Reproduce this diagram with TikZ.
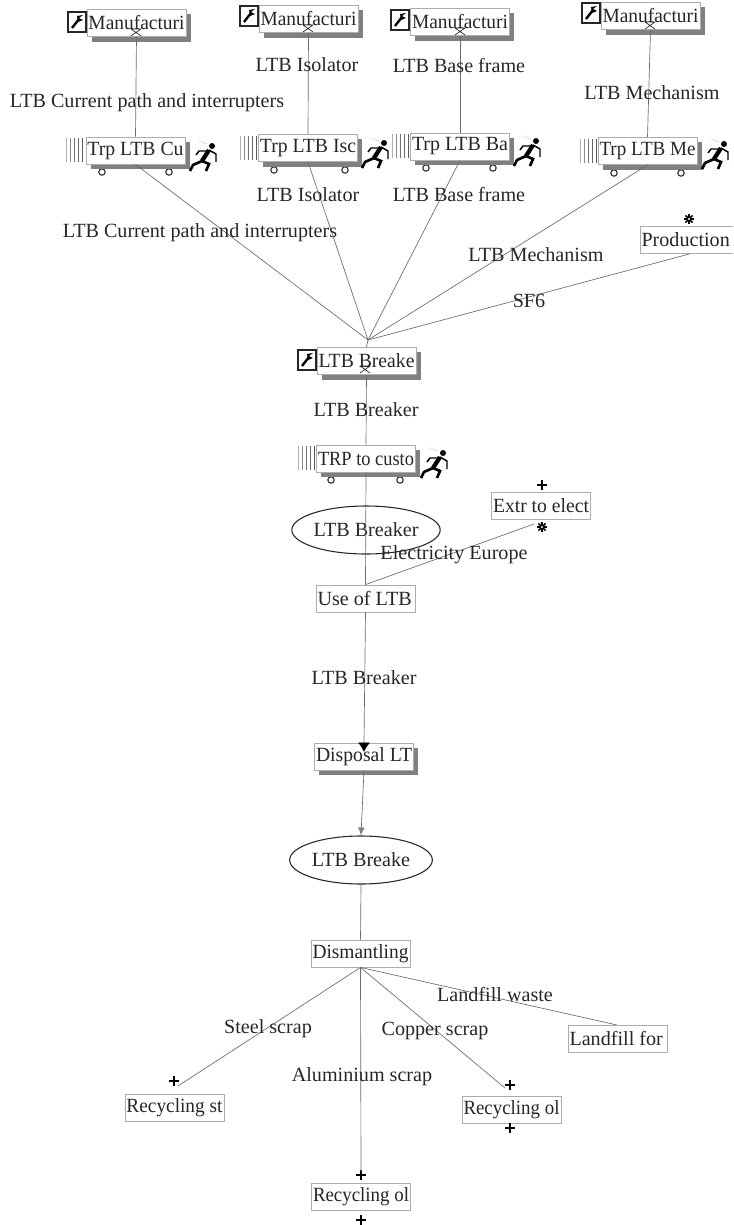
\documentclass[tikz,border=0pt]{standalone}
\usepackage{fontspec}
\setmainfont{Liberation Serif}
\usetikzlibrary{shadows,arrows.meta,shapes.geometric}
\definecolor{inkc}{gray}{0.15}
\definecolor{linec}{gray}{0.42}
\definecolor{boxc}{gray}{0.68}
\definecolor{shadc}{gray}{0.5}
\newsavebox{\fitsave}
\newcommand{\fitln}[1]{\sbox{\fitsave}{#1}\ifdim\wd\fitsave>72pt\resizebox{72pt}{\height}{\usebox{\fitsave}}\else\makebox[72pt][l]{\usebox{\fitsave}}\fi}
\tikzset{
  x=0.75pt,y=-0.75pt,
  every node/.style={text=inkc,font=\fontsize{15.1pt}{17pt}\selectfont},
  procbox/.style={draw=boxc,line width=0.4pt,fill=white,minimum height=20.5pt,minimum width=74.2pt,inner xsep=1pt,inner ysep=0.5pt},
  shadowbox/.style={procbox,drop shadow={shadow xshift=3.6pt,shadow yshift=-3.8pt,fill=shadc,opacity=1}},
  flowell/.style={draw=inkc,line width=0.8pt,ellipse,fill=none,minimum width=107pt,minimum height=36pt,inner sep=0pt},
  lbl/.style={inner sep=0pt},
  conn/.style={draw=linec,line width=0.5pt},
  pics/wrenchicon/.style={code={
    \draw[draw=inkc,line width=0.8pt,fill=white] (-9,-10) rectangle (9,10);
    \draw[black,line width=1.8pt] (-5,6) -- (2,-3);
    \fill[black] (0,-6) -- (6,-7) -- (2,-4) -- (6,-2) -- (1,0) -- cycle;
  }},
  pics/runnericon/.style={code={
    \fill[black] (7,-12) circle (3);
    \draw[black,line width=3.2pt] (4,-8) -- (-3,3);
    \draw[black,line width=2pt] (-3,3) -- (-12,7) -- (-15,13);
    \draw[black,line width=2pt] (-3,3) -- (4,6) -- (1,13);
    \draw[black,line width=1.1pt] (4,-8) -- (11,-4) -- (11,4);
    \draw[black,line width=1.1pt] (3,-7) -- (-6,-7) -- (-9,-3);
    \draw[gray,densely dotted,line width=0.4pt] (-6,-17) -- (2,-14);
  }},
  pics/stripesicon/.style={code={
    \foreach \sx/\sc in {0/30,4/45,8/55,12/60,16/65}
      \draw[black!\sc!white,line width=0.5pt] (\sx,-12) -- (\sx,12);
  }},
  pics/wheelicon/.style={code={
    \draw[inkc,line width=0.8pt,fill=white] (0,0) circle (3.2);
  }},
  pics/plusicon/.style={code={
    \draw[black,line width=1.4pt] (-5,0) -- (5,0) (0,-5) -- (0,5);
  }},
  pics/staricon/.style={code={
    \foreach \sa in {0,45,90,135}
      \draw[black,line width=1.1pt] (\sa:5) -- (\sa+180:5);
    \fill[white] (0,0) circle (1.2);
  }},
  pics/funnelicon/.style={code={
    \draw[inkc,line width=0.5pt] (-5,-3) -- (5,4) (5,-3) -- (-5,4) (-5,-3) -- (5,-3);
  }}
}
\begin{document}
\begin{tikzpicture}
\useasboundingbox (0,0) rectangle (733,1225);
\clip (0,0) rectangle (733,1225);
% stripes
\pic at (66,150) {stripesicon};
\pic at (240,148) {stripesicon};
\pic at (392,146) {stripesicon};
\pic at (580,151) {stripesicon};
\pic at (298,458) {stripesicon};
% wheels
\foreach \wx/\wy in {102/172,169/172,274/170,345/170,426/168,493/168,614/173,681/173,331/480,400/480}
  \pic at (\wx,\wy) {wheelicon};
% boxes
\node[shadowbox] (m1) at (136.5,23) {\fitln{Manufacturi}};
\node[shadowbox] (m2) at (308.5,19) {\fitln{Manufacturi}};
\node[shadowbox] (m3) at (460,22) {\fitln{Manufacturi}};
\node[shadowbox] (m4) at (650.5,16) {\fitln{Manufacturi}};
\node[shadowbox] (t1) at (135.5,150.5) {\fitln{Trp LTB Cu}};
\node[shadowbox] (t2) at (308,148) {\fitln{Trp LTB Isc}};
\node[shadowbox] (t3) at (460,146.5) {\fitln{Trp LTB Ba}};
\node[shadowbox] (t4) at (647.5,151) {\fitln{Trp LTB Me}};
\node[procbox] (prod) at (689.5,240) {\fitln{Production}};
\node[shadowbox] (br) at (366.5,361) {\fitln{LTB Breake}};
\node[shadowbox] (trp) at (366,458.5) {\fitln{TRP to custo}};
\node[procbox] (extr) at (541,506) {\fitln{Extr to elect}};
\node[flowell] (e1) at (366,530) {LTB Breaker};
\node[procbox] (use) at (365.5,598.5) {\fitln{Use of LTB}};
\node[shadowbox] (disp) at (364,756.5) {\fitln{Disposal LT}};
\node[flowell] (e2) at (361,860) {LTB Breake};
\node[procbox] (dism) at (360.5,953.5) {\fitln{Dismantling}};
\node[procbox] (land) at (617.5,1038.5) {\fitln{Landfill for}};
\node[procbox] (rs) at (174.5,1107.5) {\fitln{Recycling st}};
\node[procbox] (ro) at (511.5,1109.5) {\fitln{Recycling ol}};
\node[procbox] (rb) at (361,1197) {\fitln{Recycling ol}};
% icons
\pic at (77,22) {wrenchicon};
\pic at (249,16) {wrenchicon};
\pic at (400,20) {wrenchicon};
\pic at (591,13) {wrenchicon};
\pic at (307,360) {wrenchicon};
\pic at (205,158) {runnericon};
\pic at (377,155) {runnericon};
\pic at (529,153) {runnericon};
\pic at (717,156) {runnericon};
\pic at (436,465) {runnericon};
\pic at (542,485) {plusicon};
\pic at (174,1081) {plusicon};
\pic at (510,1085) {plusicon};
\pic at (510,1128) {plusicon};
\pic at (361,1175) {plusicon};
\pic at (361,1220) {plusicon};
\pic at (689,219) {staricon};
\pic at (542,527) {staricon};
\pic at (136,32) {funnelicon};
\pic at (308,28) {funnelicon};
\pic at (460,31) {funnelicon};
\pic at (650,25) {funnelicon};
\pic at (365,369) {funnelicon};
% named free ends
\coordinate (apex) at (368,340);
\coordinate (extrend) at (534,524);
\coordinate (prs) at (178,1086);
\coordinate (pro) at (505,1088);
\coordinate (prb) at (361,1172);
\coordinate (pland) at (617,1025);
% connectors
\draw[conn] (m1.south) -- (t1.north);
\draw[conn] (m2.south) -- (t2.north);
\draw[conn] (m3.south) -- (t3.north);
\draw[conn] (m4.south) -- (t4.north);
\draw[conn] (t1.south) -- (apex);
\draw[conn] (t2.south) -- (apex);
\draw[conn] (t3.south) -- (apex);
\draw[conn] (t4.south) -- (apex);
\draw[conn] (prod.south) -- (apex);
\draw[conn] (apex) -- (br.north);
\draw[conn] (br.south) -- (trp.north);
\draw[conn] (trp.south) -- (use.north);
\draw[conn] (use.north) -- (extrend);
\draw[conn,-{Latex[length=7pt,width=9pt,black]},shorten >=-7pt] (use.south) -- (disp.north);
\draw[conn,-{Latex[length=6pt,width=5pt,gray]}] (disp.south) -- (e2.north);
\draw[conn] (e2.south) -- (dism.north);
\draw[conn] (dism.south) -- (prs);
\draw[conn] (dism.south) -- (prb);
\draw[conn] (dism.south) -- (pro);
\draw[conn] (dism.south) -- (pland);
% labels
\node[lbl] (l1) at (147,103) {LTB Current path and interrupters};
\node[lbl] (l2) at (307,65) {LTB Isolator};
\node[lbl] (l3) at (459,66) {LTB Base frame};
\node[lbl] (l4) at (652,93) {LTB Mechanism};
\node[lbl] (l5) at (308,195) {LTB Isolator};
\node[lbl] (l6) at (459,195) {LTB Base frame};
\node[lbl] (l7) at (200,233) {LTB Current path and interrupters};
\node[lbl] (l8) at (536,255) {LTB Mechanism};
\node[lbl] (l9) at (529,301) {SF6};
\node[lbl] (l10) at (366,410) {LTB Breaker};
\node[lbl] (l11) at (454,555) {Electricity Europe};
\node[lbl] (l12) at (364,678) {LTB Breaker};
\node[lbl] (l13) at (495,994) {Landfill waste};
\node[lbl] (l14) at (268,1029) {Steel scrap};
\node[lbl] (l15) at (435,1031) {Copper scrap};
\node[lbl] (l16) at (362,1077) {Aluminium scrap};
\end{tikzpicture}
\end{document}
